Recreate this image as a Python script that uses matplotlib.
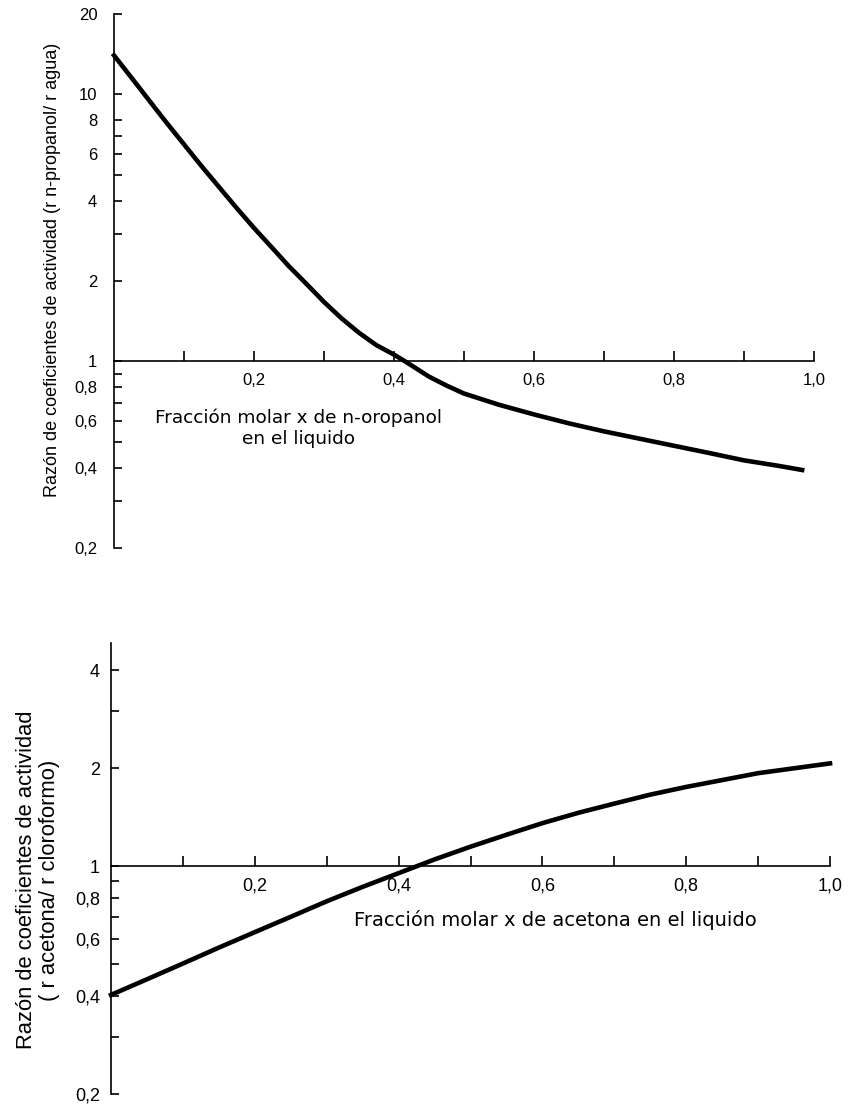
import numpy as np
import matplotlib
matplotlib.use('Agg')
import matplotlib.pyplot as plt
from matplotlib.ticker import NullLocator

plt.rcParams['font.family'] = ['Liberation Sans', 'DejaVu Sans']

# top chart: n-propanol / agua
x_prop = [0.0, 0.025, 0.05, 0.075, 0.1, 0.125, 0.15, 0.175, 0.2, 0.225,
          0.25, 0.275, 0.3, 0.325, 0.35, 0.375, 0.4, 0.416, 0.45, 0.475,
          0.5, 0.55, 0.6, 0.65, 0.7, 0.75, 0.8, 0.85, 0.9, 0.95, 0.983]
r_prop = [14.0, 11.55, 9.51, 7.84, 6.50, 5.39, 4.50, 3.76, 3.16, 2.68,
          2.27, 1.95, 1.67, 1.45, 1.28, 1.15, 1.06, 1.0, 0.877, 0.812,
          0.758, 0.688, 0.633, 0.586, 0.547, 0.514, 0.483, 0.454, 0.426, 0.406,
          0.392]

# bottom chart: acetona / cloroformo
x_acet = [0.0, 0.05, 0.1, 0.15, 0.2, 0.25, 0.3, 0.35, 0.4, 0.45, 0.5,
          0.55, 0.6, 0.65, 0.7, 0.75, 0.8, 0.85, 0.9, 0.95, 1.0]
r_acet = [0.403, 0.45, 0.503, 0.563, 0.628, 0.70, 0.781, 0.865, 0.953, 1.05,
          1.149, 1.25, 1.357, 1.46, 1.558, 1.66, 1.753, 1.84, 1.932, 2.0, 2.07]

x_ticks = [0.1, 0.2, 0.3, 0.4, 0.5, 0.6, 0.7, 0.8, 0.9, 1.0]
x_labels = ['', '0,2', '', '0,4', '', '0,6', '', '0,8', '', '1,0']

top_yticks = [20, 10, 8, 7, 6, 5, 4, 3, 2, 1, 0.9, 0.8, 0.7, 0.6, 0.5, 0.4, 0.3, 0.2]
top_ylabels = ['20', '10', '8', '', '6', '', '4', '', '2', '1', '', '0,8', '', '0,6',
               '', '0,4', '', '0,2']

bot_yticks = [4, 3, 2, 1, 0.9, 0.8, 0.7, 0.6, 0.5, 0.4, 0.3, 0.2]
bot_ylabels = ['4', '', '2', '1', '', '0,8', '', '0,6', '', '0,4', '', '0,2']


def style_axes(ax, ylim, yticks, ylabels, fs, ypad):
    ax.set_yscale('log')
    ax.set_xlim(0, 1)
    ax.set_ylim(*ylim)
    ax.spines['top'].set_visible(False)
    ax.spines['right'].set_visible(False)
    ax.spines['bottom'].set_position(('data', 1))
    for s in ('left', 'bottom'):
        ax.spines[s].set_linewidth(1.2)
    ax.set_yticks(yticks)
    ax.set_yticklabels(ylabels)
    ax.yaxis.set_minor_locator(NullLocator())
    ax.set_xticks(x_ticks)
    ax.set_xticklabels(x_labels)
    ax.tick_params(axis='y', direction='in', length=6, width=1.2, pad=ypad,
                   labelsize=fs)
    ax.tick_params(axis='x', direction='in', length=7, width=1.2, pad=8,
                   labelsize=fs)
    ax.patch.set_alpha(0)


fig = plt.figure(figsize=(8.52, 11.06), dpi=100)

ax1 = fig.add_axes([0.1338, 0.5045, 0.8216, 0.4828])
ax1.plot(x_prop, r_prop, color='black', linewidth=3.3, clip_on=False)
style_axes(ax1, (0.2, 20), top_yticks, top_ylabels, 12, 12)
ax1.text(0.264, 0.2247, 'Fracción molar x de n-oropanol\nen el liquido',
         transform=ax1.transAxes, ha='center', va='center',
         multialignment='center', fontsize=13.3, linespacing=1.2,
         family='DejaVu Sans')
fig.text(53 / 852, 1 - 270 / 1106,
         'Razón de coeficientes de actividad (r n-propanol/ r agua)',
         rotation=90, ha='center', va='center', fontsize=13)

ax2 = fig.add_axes([0.1303, 0.01085, 0.8439, 0.4078])
ax2.plot(x_acet, r_acet, color='black', linewidth=3.3, clip_on=False)
style_axes(ax2, (0.2, 4.85), bot_yticks, bot_ylabels, 13, 8)
ax2.text(0.6175, 0.386, 'Fracción molar x de acetona en el liquido',
         transform=ax2.transAxes, ha='center', va='center', fontsize=14,
         family='DejaVu Sans')
fig.text(38 / 852, 1 - 880 / 1106,
         'Razón de coeficientes de actividad\n( r acetona/ r cloroformo)',
         rotation=90, ha='center', va='center', multialignment='center',
         fontsize=15.8, linespacing=1.15)

fig.savefig('out.png', dpi=100)
